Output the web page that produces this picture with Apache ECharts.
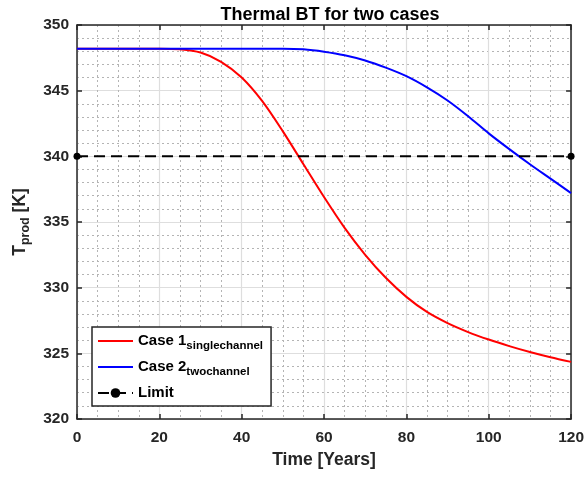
<!DOCTYPE html>
<html>
<head>
<meta charset="utf-8">
<script src="https://cdn.jsdelivr.net/npm/echarts@6/dist/echarts.min.js"></script>
<style>
  html, body { margin: 0; padding: 0; background: #fff; }
  #chart { width: 587px; height: 477px; }
</style>
</head>
<body>
<div id="chart"></div>
<script>
// Simulation output: production temperature over time
const years = [0, 5, 10, 15, 20, 25, 30, 35, 40, 45, 50, 55, 60, 65, 70, 75, 80, 85, 90, 95, 100, 105, 110, 115, 120];
const case1Single = [348.2, 348.2, 348.2, 348.2, 348.2, 348.15, 347.9, 347.2, 346.0, 344.2, 341.9, 339.4, 336.9, 334.55, 332.5, 330.75, 329.3, 328.15, 327.3, 326.62, 326.05, 325.55, 325.1, 324.7, 324.35];
const case2Two = [348.2, 348.2, 348.2, 348.2, 348.2, 348.2, 348.2, 348.2, 348.2, 348.2, 348.2, 348.15, 347.97, 347.7, 347.3, 346.75, 346.1, 345.25, 344.25, 343.05, 341.75, 340.55, 339.4, 338.3, 337.2];
const limitYears = [0, 120];
const limitValue = [340, 340];

const xTicks = { min: 0, max: 120, interval: 20 };
const yTicks = { min: 320, max: 350, interval: 5 };

const font = "'Liberation Sans', Arial, Helvetica, sans-serif";
const ink = '#262626';

const pair = (xs, ys) => xs.map((x, i) => [x, ys[i]]);

const chart = echarts.init(document.getElementById('chart'), null, { renderer: 'canvas' });

const baseX = {
  type: 'value', min: xTicks.min, max: xTicks.max, interval: xTicks.interval,
  axisLine: { show: true, onZero: false, lineStyle: { color: ink, width: 1.5 } },
  axisTick: { show: true, inside: true, length: 5, lineStyle: { color: ink, width: 1.5 } }
};
const baseY = {
  type: 'value', min: yTicks.min, max: yTicks.max, interval: yTicks.interval,
  axisLine: { show: true, onZero: false, lineStyle: { color: ink, width: 1.5 } },
  axisTick: { show: true, inside: true, length: 5, lineStyle: { color: ink, width: 1.5 } }
};

// thin horizontal bar used as the legend swatch for solid lines
const lineIcon = 'path://M0,0H35V2H0Z';

chart.setOption({
  animation: false,
  backgroundColor: '#fff',
  title: {
    text: 'Thermal BT for two cases',
    left: 325, top: 1, textAlign: 'center',
    textStyle: { fontFamily: font, fontSize: 18, fontWeight: 'bold', color: '#000' }
  },
  grid: { left: 77, right: 13, top: 25, bottom: 58 },
  xAxis: [
    Object.assign({}, baseX, {
      position: 'bottom',
      name: 'Time [Years]', nameLocation: 'middle', nameGap: 31,
      nameTextStyle: { fontFamily: font, fontSize: 17.5, fontWeight: 'bold', color: ink },
      axisLabel: { fontFamily: font, fontSize: 15.5, fontWeight: 'bold', color: ink, margin: 11 },
      splitLine: { show: true, lineStyle: { color: '#dedede', width: 1.2 } },
      minorTick: { show: false, splitNumber: 4 },
      minorSplitLine: { show: true, lineStyle: { color: '#b4b4b4', width: 1, type: [2, 3] } }
    }),
    Object.assign({}, baseX, {
      position: 'top',
      axisLabel: { show: false },
      splitLine: { show: false }
    })
  ],
  yAxis: [
    Object.assign({}, baseY, {
      position: 'left',
      name: '{t|T}{s|prod}{t| [K]}', nameLocation: 'middle', nameGap: 41, nameRotate: 90,
      nameTextStyle: {
        fontFamily: font, color: ink,
        rich: {
          t: { fontFamily: font, fontSize: 17.5, fontWeight: 'bold', color: ink, lineHeight: 19, verticalAlign: 'top' },
          s: { fontFamily: font, fontSize: 12.5, fontWeight: 'bold', color: ink, lineHeight: 13, padding: [10, 0, 0, 0] }
        }
      },
      axisLabel: { fontFamily: font, fontSize: 15.5, fontWeight: 'bold', color: ink, margin: 8 },
      splitLine: { show: true, lineStyle: { color: '#dedede', width: 1.2 } },
      minorTick: { show: false, splitNumber: 5 },
      minorSplitLine: { show: true, lineStyle: { color: '#b4b4b4', width: 1, type: [2, 3] } }
    }),
    Object.assign({}, baseY, {
      position: 'right',
      axisLabel: { show: false },
      splitLine: { show: false }
    })
  ],
  legend: {
    orient: 'vertical',
    left: 92, top: 327,
    padding: [3, 8, 2, 5],
    itemGap: 4,
    itemWidth: 35, itemHeight: 12,
    backgroundColor: '#fff',
    borderColor: ink, borderWidth: 1.5, borderRadius: 0,
    data: [
      { name: 'Case 1', icon: lineIcon },
      { name: 'Case 2', icon: lineIcon },
      { name: 'Limit' }
    ],
    formatter: name => {
      if (name === 'Case 1') return '{a|Case 1}{s|singlechannel}';
      if (name === 'Case 2') return '{a|Case 2}{s|twochannel}';
      return '{a|Limit}{s| }';
    },
    textStyle: {
      fontFamily: font, color: '#000',
      rich: {
        a: { fontFamily: font, fontSize: 15, fontWeight: 'bold', color: '#000', lineHeight: 16, verticalAlign: 'top' },
        s: { fontFamily: font, fontSize: 11.5, fontWeight: 'bold', color: '#000', lineHeight: 12, padding: [10, 0, 0, 0] }
      }
    }
  },
  series: [
    {
      name: 'Case 1', type: 'line',
      data: pair(years, case1Single),
      smooth: 0.3,
      symbol: 'none',
      lineStyle: { color: '#ff0000', width: 2 },
      itemStyle: { color: '#ff0000' },
      z: 3
    },
    {
      name: 'Case 2', type: 'line',
      data: pair(years, case2Two),
      smooth: 0.3,
      symbol: 'none',
      lineStyle: { color: '#0000ff', width: 2 },
      itemStyle: { color: '#0000ff' },
      z: 3
    },
    {
      name: 'Limit', type: 'line',
      data: pair(limitYears, limitValue),
      symbol: 'circle', symbolSize: 7, showSymbol: true,
      clip: false,
      lineStyle: { color: '#000', width: 2, type: [11, 6] },
      itemStyle: { color: '#000' },
      z: 4
    }
  ]
});
</script>
</body>
</html>
